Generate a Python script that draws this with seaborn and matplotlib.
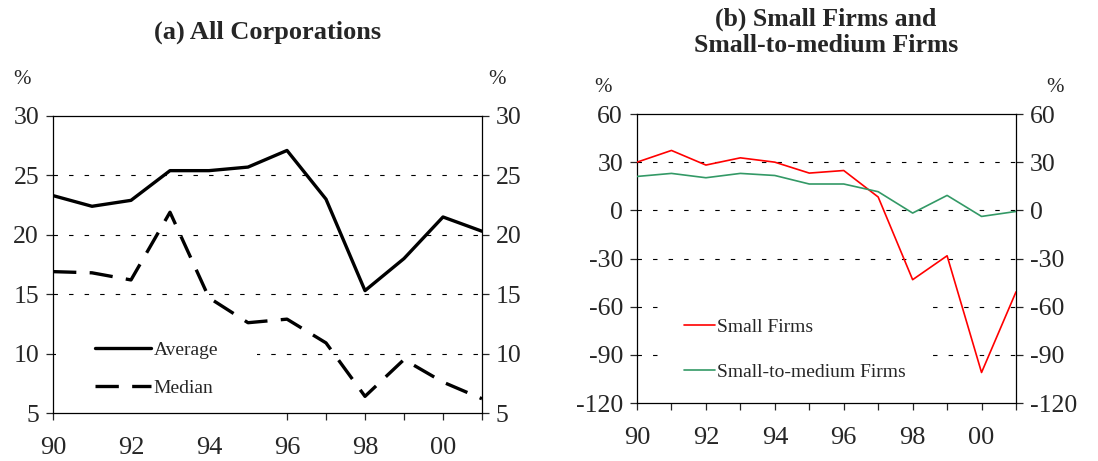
import numpy as np
import pandas as pd
import matplotlib
matplotlib.use('Agg')
import matplotlib.pyplot as plt
import seaborn as sns

# Data
years = list(range(1990, 2002))
average = [23.3, 22.4, 22.9, 25.4, 25.4, 25.7, 27.1, 23.0, 15.3, 18.0, 21.5, 20.3]
median = [16.9, 16.8, 16.2, 21.9, 14.7, 12.6, 12.9, 10.9, 6.4, 9.5, 7.6, 6.2]
small = [30.0, 37.3, 28.2, 32.7, 30.0, 23.2, 24.8, 8.3, -43.2, -28.3, -101.0, -50.8]
small_medium = [21.1, 23.0, 20.3, 23.0, 21.7, 16.4, 16.4, 11.6, -1.7, 9.3, -3.8, -0.7]
xtick_years = [1990, 1992, 1994, 1996, 1998, 2000]
xtick_labels = ['90', '92', '94', '96', '98', '00']

sns.set_style('white')
plt.rcParams['font.family'] = ['Liberation Serif', 'DejaVu Serif']
plt.rcParams['axes.unicode_minus'] = False

fig = plt.figure(figsize=(10.98, 4.61), dpi=100)
ax1 = fig.add_axes([53 / 1098, 1 - 413 / 461, 429 / 1098, 297 / 461])
ax2 = fig.add_axes([637 / 1098, 1 - 403 / 461, 379 / 1098, 289 / 461])

sns.lineplot(x=years, y=average, ax=ax1, color='black', lw=2.4, label='Average', zorder=3)
sns.lineplot(x=years, y=median, ax=ax1, color='black', lw=2.4, linestyle=(0, (7, 4)),
             label='Median', zorder=3)

sns.lineplot(x=years, y=small, ax=ax2, color='#ff0000', lw=1.2, label='Small Firms', zorder=3)
sns.lineplot(x=years, y=small_medium, ax=ax2, color='#339966', lw=1.2,
             label='Small-to-medium Firms', zorder=3)


def style_axis(ax, ylim, yticks):
    ax.set_xlim(1990, 2001)
    ax.set_ylim(*ylim)
    ax.set_yticks(yticks)
    ax.set_xticks(xtick_years)
    ax.set_xticklabels(xtick_labels)
    ax.set_xticks(years, minor=True)
    for s in ax.spines.values():
        s.set_visible(True)
        s.set_color('black')
        s.set_linewidth(0.9)
    ax.tick_params(axis='y', left=True, right=True, labelleft=True, labelright=True,
                   direction='out', length=5, width=0.9, labelsize=18.5, pad=5)
    ax.tick_params(axis='x', which='both', bottom=True, direction='out', length=5,
                   width=0.9, labelsize=19, pad=12)
    for v in yticks[1:-1]:
        ax.axhline(v, color='black', lw=0.8, linestyle=(0, (4, 10)), zorder=1)
    ax.set_xlabel('')
    ax.set_ylabel('')


style_axis(ax1, (5, 30), [5, 10, 15, 20, 25, 30])
style_axis(ax2, (-120, 60), [-120, -90, -60, -30, 0, 30, 60])

leg1 = ax1.legend(loc='upper left', bbox_to_anchor=(0.007, 0.372), borderaxespad=0,
                  fontsize=14, handlelength=2.9, handletextpad=0.12, labelspacing=1.05,
                  frameon=True, facecolor='white', edgecolor='none', framealpha=1,
                  borderpad=2.0)
leg1.set_zorder(2)
leg2 = ax2.legend(loc='upper left', bbox_to_anchor=(0.072, 0.36), borderaxespad=0,
                  fontsize=14, handlelength=1.6, handletextpad=0.12, labelspacing=1.4,
                  frameon=True, facecolor='white', edgecolor='none', framealpha=1,
                  borderpad=1.0)
leg2.set_zorder(2)

fig.text(268 / 1098, 1 - 32 / 461, '(a) All Corporations', ha='center', va='center',
         fontsize=19, fontweight='bold')
fig.text(826 / 1098, 1 - 32 / 461, '(b) Small Firms and\nSmall-to-medium Firms',
         ha='center', va='center', fontsize=18.5, fontweight='bold', linespacing=1.15)

for x, y in [(22, 80), (497, 80), (603, 88), (1055, 88)]:
    fig.text(x / 1098, 1 - y / 461, '%', ha='center', va='center', fontsize=15)

fig.savefig('out.png', dpi=100)
